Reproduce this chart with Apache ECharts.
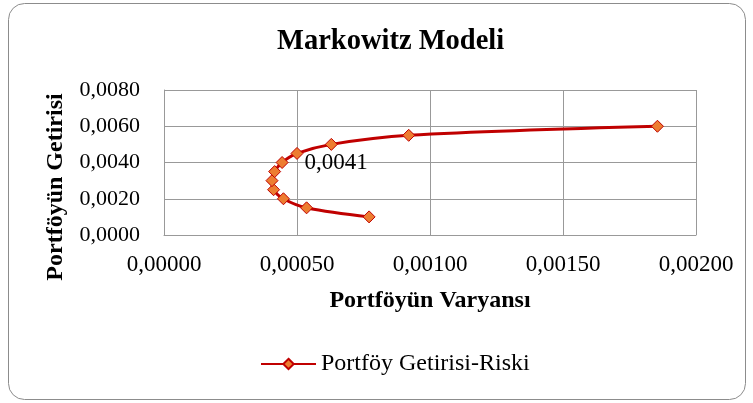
<!DOCTYPE html>
<html>
<head>
<meta charset="utf-8">
<script src="https://cdn.jsdelivr.net/npm/echarts@6/dist/echarts.min.js"></script>
<style>
  html, body { margin: 0; padding: 0; background: #fff; }
  #chart { width: 753px; height: 403px; }
</style>
</head>
<body>
<div id="chart"></div>
<script>
// varyans (x) ve getiri (y) degerleri
const variances = [0.000771, 0.000536, 0.000449, 0.000412, 0.000406, 0.000416, 0.000444, 0.0005, 0.000629, 0.00092, 0.001855]
const returns = [0.0010, 0.0015, 0.0020, 0.0025, 0.0030, 0.0035, 0.0040, 0.0045, 0.0050, 0.0055, 0.0060]
const pointLabels = ["", "", "", "", "", "", "0,0041", "", "", "", ""]
const seriesName = "Portföy Getirisi-Riski"

const fmt = (v, d) => v.toFixed(d).replace(".", ",")
const serif = "Liberation Serif"

const chart = echarts.init(document.getElementById("chart"))
chart.setOption({
  animation: false,
  backgroundColor: "#fff",
  title: {
    text: "Markowitz Modeli",
    left: 272,
    top: 22,
    textStyle: { fontFamily: serif, fontSize: 28.5, fontWeight: "bold", color: "#000" },
  },
  grid: { left: 164, top: 90, right: 57, bottom: 168 },
  legend: {
    bottom: 22,
    left: 255,
    itemWidth: 55,
    itemHeight: 13,
    itemGap: 4,
    textStyle: { fontFamily: serif, fontSize: 24, color: "#000" },
    data: [seriesName],
  },
  xAxis: {
    type: "value",
    min: 0,
    max: 0.002,
    interval: 0.0005,
    name: "Portföyün Varyansı",
    nameLocation: "middle",
    nameGap: 54,
    nameTextStyle: { fontFamily: serif, fontSize: 24, fontWeight: "bold", color: "#000" },
    axisLine: { show: true, lineStyle: { color: "#999" } },
    axisTick: { show: false },
    splitLine: { show: true, lineStyle: { color: "#999", width: 1 } },
    axisLabel: {
      margin: 18,
      fontFamily: serif,
      fontSize: 23,
      color: "#000",
      formatter: v => fmt(v, 5),
    },
  },
  yAxis: {
    type: "value",
    min: 0,
    max: 0.008,
    interval: 0.002,
    axisLine: { show: true, lineStyle: { color: "#999" } },
    axisTick: { show: false },
    splitLine: { show: true, lineStyle: { color: "#999", width: 1 } },
    axisLabel: {
      margin: 24,
      fontFamily: serif,
      fontSize: 22,
      color: "#000",
      formatter: v => fmt(v, 4),
    },
  },
  graphic: [
    {
      type: "rect",
      shape: { x: 8.5, y: 3.5, width: 737, height: 396, r: 16 },
      style: { fill: "none", stroke: "#8c8c8c", lineWidth: 1 },
      silent: true,
    },
    {
      type: "text",
      x: 56,
      y: 187,
      rotation: Math.PI / 2,
      style: {
        text: "Portföyün Getirisi",
        fontFamily: serif,
        fontSize: 24,
        fontWeight: "bold",
        fill: "#000",
        align: "center",
        verticalAlign: "middle",
      },
    },
  ],
  series: [
    {
      name: seriesName,
      type: "line",
      smooth: 0.35,
      symbol: "diamond",
      symbolSize: 12,
      lineStyle: { color: "#c00000", width: 3 },
      itemStyle: { color: "#ed7d31", borderColor: "#c00000", borderWidth: 1 },
      label: {
        show: true,
        position: "right",
        distance: 16,
        fontFamily: serif,
        fontSize: 23,
        color: "#000",
        formatter: p => pointLabels[p.dataIndex],
      },
      data: variances.map((v, i) => [v, returns[i]]),
    },
  ],
})
</script>
</body>
</html>
